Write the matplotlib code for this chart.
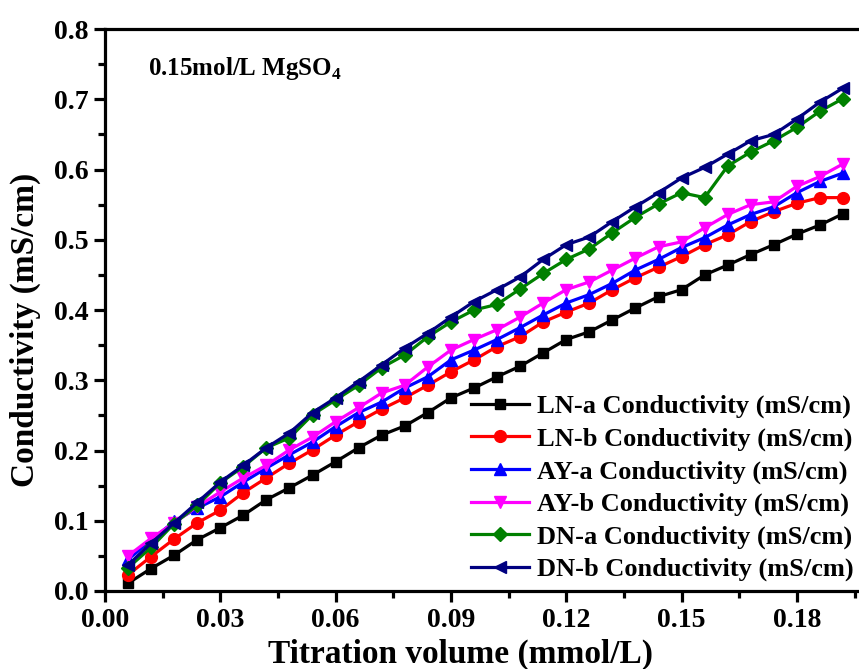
import matplotlib
matplotlib.use("Agg")
import matplotlib.pyplot as plt
from matplotlib.ticker import MultipleLocator, FormatStrFormatter

plt.rcParams['font.family'] = ['Liberation Serif', 'DejaVu Serif']
plt.rcParams['font.weight'] = 'bold'
plt.rcParams['mathtext.fontset'] = 'custom'
plt.rcParams['mathtext.rm'] = 'Liberation Serif:bold'
plt.rcParams['mathtext.bf'] = 'Liberation Serif:bold'

# titration volume (mmol/L)
volume = [0.006, 0.012, 0.018, 0.024, 0.030, 0.036, 0.042, 0.048, 0.054, 0.060,
          0.066, 0.072, 0.078, 0.084, 0.090, 0.096, 0.102, 0.108, 0.114, 0.120,
          0.126, 0.132, 0.138, 0.144, 0.150, 0.156, 0.162, 0.168, 0.174, 0.180,
          0.186, 0.192]

ln_a = [0.011, 0.032, 0.051, 0.073, 0.090, 0.108, 0.130, 0.147, 0.165, 0.184,
        0.204, 0.222, 0.235, 0.254, 0.275, 0.289, 0.305, 0.320, 0.339, 0.358,
        0.369, 0.386, 0.403, 0.419, 0.429, 0.450, 0.464, 0.479, 0.493, 0.508,
        0.521, 0.537]
ln_b = [0.023, 0.049, 0.074, 0.097, 0.115, 0.140, 0.161, 0.182, 0.201, 0.222,
        0.241, 0.259, 0.275, 0.293, 0.312, 0.329, 0.348, 0.362, 0.383, 0.397,
        0.410, 0.429, 0.446, 0.461, 0.476, 0.493, 0.507, 0.526, 0.540, 0.552,
        0.560, 0.560]
ay_a = [0.045, 0.072, 0.099, 0.118, 0.134, 0.155, 0.175, 0.194, 0.212, 0.234,
        0.254, 0.269, 0.289, 0.305, 0.329, 0.343, 0.358, 0.375, 0.393, 0.410,
        0.422, 0.438, 0.457, 0.472, 0.489, 0.503, 0.521, 0.536, 0.547, 0.567,
        0.583, 0.595]
ay_b = [0.050, 0.075, 0.097, 0.120, 0.141, 0.161, 0.179, 0.201, 0.219, 0.241,
        0.261, 0.282, 0.293, 0.319, 0.343, 0.358, 0.372, 0.390, 0.410, 0.429,
        0.440, 0.457, 0.474, 0.490, 0.497, 0.517, 0.536, 0.550, 0.554, 0.576,
        0.590, 0.608]
dn_a = [0.033, 0.062, 0.096, 0.122, 0.154, 0.177, 0.204, 0.218, 0.251, 0.272,
        0.293, 0.318, 0.336, 0.362, 0.383, 0.400, 0.408, 0.430, 0.452, 0.472,
        0.487, 0.510, 0.532, 0.551, 0.567, 0.560, 0.605, 0.625, 0.641, 0.660,
        0.683, 0.701]
dn_b = [0.037, 0.068, 0.097, 0.126, 0.155, 0.179, 0.204, 0.225, 0.254, 0.275,
        0.298, 0.322, 0.346, 0.367, 0.390, 0.412, 0.429, 0.447, 0.472, 0.493,
        0.504, 0.526, 0.547, 0.567, 0.588, 0.603, 0.622, 0.641, 0.650, 0.672,
        0.696, 0.716]

labels = ['LN-a Conductivity (mS/cm)', 'LN-b Conductivity (mS/cm)',
          'AY-a Conductivity (mS/cm)', 'AY-b Conductivity (mS/cm)',
          'DN-a Conductivity (mS/cm)', 'DN-b Conductivity (mS/cm)']

fig = plt.figure(figsize=(8.59, 6.69), dpi=100)
ax = fig.add_axes([0.1222, 0.1166, 0.895, 0.840])

ax.plot(volume, ln_a, '-s', color='black', lw=2.3, ms=7.5, label=labels[0])
ax.plot(volume, ln_b, '-o', color='red', lw=2.3, ms=8.5, label=labels[1])
ax.plot(volume, ay_a, '-^', color='blue', lw=2.3, ms=8.5, label=labels[2])
ax.plot(volume, ay_b, '-v', color='magenta', lw=2.3, ms=8.5, label=labels[3])
ax.plot(volume, dn_a, '-D', color='green', lw=2.3, ms=7.5, label=labels[4])
ax.plot(volume, dn_b, '-<', color='navy', lw=2.3, ms=8.5, label=labels[5])

ax.set_xlim(0, 0.2)
ax.set_ylim(0, 0.8)
ax.xaxis.set_major_locator(MultipleLocator(0.03))
ax.xaxis.set_minor_locator(MultipleLocator(0.015))
ax.yaxis.set_major_locator(MultipleLocator(0.1))
ax.yaxis.set_minor_locator(MultipleLocator(0.05))
ax.xaxis.set_major_formatter(FormatStrFormatter('%.2f'))
ax.yaxis.set_major_formatter(FormatStrFormatter('%.1f'))

for s in ax.spines.values():
    s.set_linewidth(2.3)
ax.tick_params(which='major', direction='out', length=8, width=2.3, labelsize=20,
               top=False, right=False, pad=4)
ax.tick_params(which='minor', direction='out', length=5, width=2.3,
               top=False, right=False)

ax.set_xlabel('Titration volume (mmol/L)', fontsize=24, fontweight='bold')
ax.set_ylabel('Conductivity (mS/cm)', fontsize=24, fontweight='bold')
ax.xaxis.set_label_coords(0.463, -0.085)
ax.yaxis.set_label_coords(-0.083, 0.465)

ax.text(0.0112, 0.735, r'0.15mol/L MgSO$_4$', fontsize=18, fontweight='bold')

ax.legend(loc='lower right', bbox_to_anchor=(0.9965, 0.127),
          bbox_transform=fig.transFigure, frameon=False, fontsize=19,
          handlelength=2.2, handletextpad=0.3, labelspacing=0.33,
          borderaxespad=0, borderpad=0.1)

fig.savefig('out.png', dpi=100)
